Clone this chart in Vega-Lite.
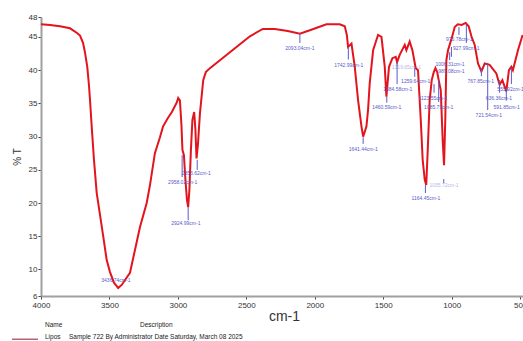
{
  "$schema": "https://vega.github.io/schema/vega-lite/v6.json",
  "autosize": {"type": "none"},
  "padding": {"left": 41, "top": 17, "right": 0, "bottom": 45},
  "width": 486,
  "height": 279,
  "background": "white",
  "config": {"view": {"stroke": null}, "font": "Liberation Sans"},
  "datasets": {
    "spectrum": [
      {"wn":4000,"T":46.9},{"wn":3934,"T":46.8},{"wn":3861,"T":46.6},{"wn":3788,"T":46.3},{"wn":3737,"T":45.6},{"wn":3715,"T":45.2},{"wn":3693,"T":44.1},{"wn":3679,"T":42.7},{"wn":3662,"T":40.5},{"wn":3650,"T":37.8},{"wn":3642,"T":35.5},{"wn":3628,"T":31.0},{"wn":3613,"T":26.5},{"wn":3593,"T":21.5},{"wn":3569,"T":18.2},{"wn":3547,"T":15.2},{"wn":3520,"T":11.4},{"wn":3496,"T":9.6},{"wn":3467,"T":8.0},{"wn":3436,"T":7.2},{"wn":3409,"T":7.7},{"wn":3380,"T":8.6},{"wn":3350,"T":9.5},{"wn":3314,"T":12.9},{"wn":3277,"T":16.4},{"wn":3228,"T":20.0},{"wn":3204,"T":22.7},{"wn":3168,"T":27.5},{"wn":3131,"T":29.9},{"wn":3109,"T":31.5},{"wn":3073,"T":32.8},{"wn":3044,"T":33.7},{"wn":3009,"T":35.1},{"wn":2998,"T":35.8},{"wn":2985,"T":35.4},{"wn":2974,"T":31.7},{"wn":2967,"T":28.0},{"wn":2956,"T":27.2},{"wn":2945,"T":23.5},{"wn":2934,"T":20.5},{"wn":2925,"T":19.4},{"wn":2916,"T":22.0},{"wn":2905,"T":28.0},{"wn":2894,"T":32.5},{"wn":2881,"T":33.7},{"wn":2872,"T":31.0},{"wn":2864,"T":26.7},{"wn":2854,"T":28.7},{"wn":2839,"T":33.5},{"wn":2815,"T":38.5},{"wn":2796,"T":39.7},{"wn":2766,"T":40.3},{"wn":2693,"T":41.5},{"wn":2620,"T":42.7},{"wn":2547,"T":43.9},{"wn":2474,"T":45.1},{"wn":2380,"T":46.2},{"wn":2292,"T":46.2},{"wn":2197,"T":45.9},{"wn":2109,"T":45.5},{"wn":2036,"T":46.0},{"wn":1915,"T":46.9},{"wn":1818,"T":46.9},{"wn":1781,"T":46.6},{"wn":1766,"T":45.3},{"wn":1757,"T":43.5},{"wn":1732,"T":44.0},{"wn":1708,"T":40.5},{"wn":1684,"T":35.5},{"wn":1659,"T":31.5},{"wn":1647,"T":30.0},{"wn":1623,"T":31.5},{"wn":1611,"T":34.0},{"wn":1599,"T":38.0},{"wn":1574,"T":43.0},{"wn":1538,"T":45.3},{"wn":1513,"T":45.0},{"wn":1489,"T":40.5},{"wn":1477,"T":36.0},{"wn":1458,"T":40.5},{"wn":1433,"T":41.8},{"wn":1409,"T":42.0},{"wn":1399,"T":41.2},{"wn":1380,"T":42.3},{"wn":1343,"T":43.8},{"wn":1331,"T":43.0},{"wn":1307,"T":44.3},{"wn":1287,"T":43.0},{"wn":1263,"T":40.3},{"wn":1246,"T":40.0},{"wn":1226,"T":32.5},{"wn":1212,"T":26.5},{"wn":1197,"T":23.5},{"wn":1186,"T":22.7},{"wn":1175,"T":28.0},{"wn":1161,"T":35.5},{"wn":1146,"T":38.5},{"wn":1131,"T":39.7},{"wn":1119,"T":40.3},{"wn":1106,"T":39.7},{"wn":1095,"T":38.5},{"wn":1080,"T":37.0},{"wn":1066,"T":29.5},{"wn":1056,"T":25.7},{"wn":1047,"T":32.5},{"wn":1039,"T":41.5},{"wn":1027,"T":43.0},{"wn":1015,"T":43.8},{"wn":1000,"T":44.8},{"wn":978,"T":46.5},{"wn":956,"T":46.9},{"wn":927,"T":46.8},{"wn":898,"T":47.1},{"wn":876,"T":46.6},{"wn":856,"T":45.1},{"wn":832,"T":43.8},{"wn":808,"T":41.0},{"wn":783,"T":39.8},{"wn":759,"T":41.0},{"wn":723,"T":40.8},{"wn":674,"T":39.5},{"wn":650,"T":37.8},{"wn":630,"T":38.5},{"wn":601,"T":36.8},{"wn":582,"T":40.0},{"wn":564,"T":40.5},{"wn":553,"T":40.0},{"wn":516,"T":43.0},{"wn":482,"T":45.3}
    ],
    "markers": [
      {"wn":2969,"T1":27.2,"T2":23.9},{"wn":2859,"T1":26.5,"T2":25.0},{"wn":2925,"T1":19.4,"T2":17.4},{"wn":2109,"T1":45.6,"T2":44.1},{"wn":1755,"T1":43.5,"T2":41.6},{"wn":1647,"T1":29.9,"T2":28.9},{"wn":1474,"T1":36.0,"T2":35.1},{"wn":1399,"T1":41.2,"T2":37.9},{"wn":1270,"T1":40.3,"T2":39.0},{"wn":1129,"T1":37.9,"T2":36.6},{"wn":1095,"T1":38.5,"T2":35.2},{"wn":1015,"T1":42.7,"T2":41.5},{"wn":1002,"T1":43.5,"T2":42.0},{"wn":947,"T1":46.5,"T2":45.3},{"wn":893,"T1":46.8,"T2":44.1},{"wn":783,"T1":40.3,"T2":39.1},{"wn":737,"T1":41.1,"T2":34.0},{"wn":650,"T1":38.5,"T2":36.6},{"wn":601,"T1":37.3,"T2":35.4},{"wn":564,"T1":40.3,"T2":37.9},{"wn":1192,"T1":22.7,"T2":21.5},{"wn":1058,"T1":23.6,"T2":23.0}
    ],
    "labels": [
      {"wn":3453,"T":8.4,"label":"3436.74cm-1","op":1},
      {"wn":2965,"T":23.2,"label":"2958.02cm-1","op":1},
      {"wn":2866,"T":24.5,"label":"2853.62cm-1","op":1},
      {"wn":2942,"T":17.0,"label":"2924.99cm-1","op":1},
      {"wn":2109,"T":43.3,"label":"2093.04cm-1","op":1},
      {"wn":1752,"T":40.8,"label":"1742.99cm-1","op":1},
      {"wn":1646,"T":28.2,"label":"1641.44cm-1","op":1},
      {"wn":1474,"T":34.4,"label":"1460.59cm-1","op":1},
      {"wn":1394,"T":37.1,"label":"1384.58cm-1","op":1},
      {"wn":1263,"T":38.4,"label":"1259.64cm-1","op":1},
      {"wn":1137,"T":35.8,"label":"1123.55cm-1","op":1},
      {"wn":1095,"T":34.5,"label":"1085.79cm-1","op":1},
      {"wn":1012,"T":40.9,"label":"1006.31cm-1","op":1},
      {"wn":1002,"T":39.8,"label":"989.08cm-1","op":1},
      {"wn":945,"T":44.7,"label":"970.78cm-1","op":1},
      {"wn":894,"T":43.4,"label":"927.99cm-1","op":1},
      {"wn":788,"T":38.4,"label":"767.85cm-1","op":1},
      {"wn":729,"T":33.2,"label":"721.54cm-1","op":1},
      {"wn":655,"T":35.8,"label":"636.36cm-1","op":1},
      {"wn":599,"T":34.5,"label":"591.85cm-1","op":1},
      {"wn":570,"T":37.1,"label":"555.92cm-1","op":1},
      {"wn":1188,"T":20.7,"label":"1164.45cm-1","op":1},
      {"wn":1056,"T":22.7,"label":"1035.72cm-1","op":0.45},
      {"wn":1331,"T":40.5,"label":"1319.65cm-1","op":0.45}
    ],
    "footer": [
      {"wn":3971,"T":1.63,"label":"Name"},
      {"wn":3277,"T":1.63,"label":"Description"},
      {"wn":3971,"T":-0.2,"label":"Lipos"},
      {"wn":3796,"T":-0.2,"label":"Sample 722 By Administrator Date Saturday, March 08 2025"}
    ],
    "legendline": [{"wn":4212,"wn2":4022,"T":-0.5}]
  },
  "layer": [
    {
      "data": {"name": "spectrum"},
      "mark": {"type": "line", "color": "#e3141c", "strokeWidth": 2},
      "encoding": {
        "x": {"field": "wn", "type": "quantitative", "sort": null,
          "scale": {"domain": [4000, 450], "nice": false, "zero": false},
          "axis": {"values": [4000,3500,3000,2500,2000,1500,1000,500], "tickCount": 20, "format": "d", "grid": false,
            "labelOverlap": false, "labelBound": false, "labelFlush": false,
            "labelFontSize": 8, "labelColor": "#333", "tickColor": "#444", "tickSize": 3,
            "domainColor": "#a0a0a0", "domainWidth": 2, "labelPadding": 2,
            "title": "cm-1", "titleFontSize": 14, "titleFontWeight": "normal", "titleColor": "#333", "titlePadding": 0}},
        "y": {"field": "T", "type": "quantitative",
          "scale": {"domain": [6, 48], "nice": false, "zero": false},
          "axis": {"values": [6,10,15,20,25,30,35,40,45,48], "tickCount": 20, "grid": false,
            "labelOverlap": false, "labelBound": false, "labelFlush": false,
            "labelFontSize": 8, "labelColor": "#333", "tickColor": "#444", "tickSize": 3,
            "domainColor": "#a0a0a0", "domainWidth": 2, "labelPadding": 1,
            "title": "% T", "titleFontSize": 10, "titleFontWeight": "normal", "titleColor": "#333", "titlePadding": 6}}
      }
    },
    {
      "data": {"name": "markers"},
      "mark": {"type": "rule", "color": "#5a5ac8", "strokeWidth": 1},
      "encoding": {
        "x": {"field": "wn", "type": "quantitative"},
        "y": {"field": "T1", "type": "quantitative"},
        "y2": {"field": "T2"}
      }
    },
    {
      "data": {"name": "labels"},
      "mark": {"type": "text", "fontSize": 5, "color": "#5a5ac8", "align": "center", "baseline": "middle"},
      "encoding": {
        "x": {"field": "wn", "type": "quantitative"},
        "y": {"field": "T", "type": "quantitative"},
        "text": {"field": "label"},
        "opacity": {"field": "op", "type": "quantitative", "scale": null}
      }
    },
    {
      "data": {"name": "footer"},
      "mark": {"type": "text", "fontSize": 6.5, "color": "#222", "align": "left", "baseline": "middle"},
      "encoding": {
        "x": {"field": "wn", "type": "quantitative"},
        "y": {"field": "T", "type": "quantitative"},
        "text": {"field": "label"}
      }
    },
    {
      "data": {"name": "legendline"},
      "mark": {"type": "rule", "color": "#8b1a2b", "strokeWidth": 1},
      "encoding": {
        "x": {"field": "wn", "type": "quantitative"},
        "x2": {"field": "wn2"},
        "y": {"field": "T", "type": "quantitative"}
      }
    }
  ]
}
